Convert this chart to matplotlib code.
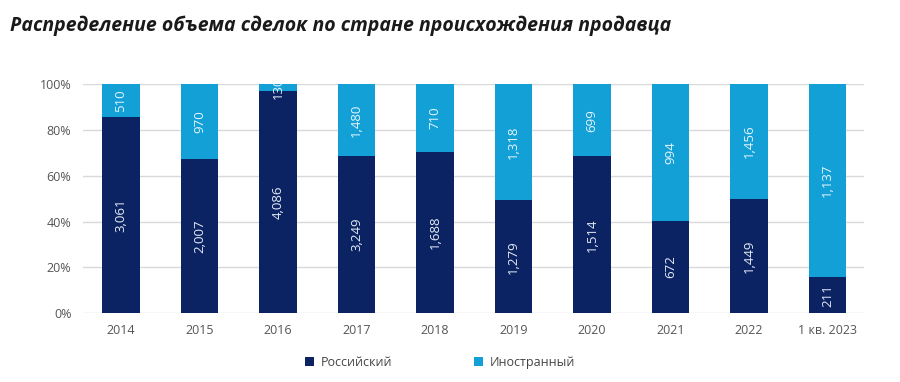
import numpy as np
import matplotlib.pyplot as plt

# Data
categories = ['2014', '2015', '2016', '2017', '2018', '2019', '2020', '2021', '2022', '1 кв. 2023']
russian = [3061, 2007, 4086, 3249, 1688, 1279, 1514, 672, 1449, 211]
foreign = [510, 970, 130, 1480, 710, 1318, 699, 994, 1456, 1137]
yticks = [0, 20, 40, 60, 80, 100]

dark = '#0b2363'
light = '#12a0d7'

rus = np.array(russian, dtype=float)
frn = np.array(foreign, dtype=float)
total = rus + frn
rus_pct = rus / total * 100
frn_pct = frn / total * 100

fig = plt.figure(figsize=(9, 3.82), dpi=100)
ax = fig.add_axes([0.0917, 0.18, 0.868, 0.6])

x = np.arange(len(categories))
w = 0.48
ax.bar(x, rus_pct, w, color=dark, label='Российский', zorder=3)
ax.bar(x, frn_pct, w, bottom=rus_pct, color=light, label='Иностранный', zorder=3)

# Value labels
for i in range(len(x)):
    ax.text(x[i], rus_pct[i] / 2, f'{russian[i]:,}', rotation=90, ha='center', va='center',
            color='#e6ecf5', fontsize=9.5, family='Open Sans', zorder=4)
    ax.text(x[i], rus_pct[i] + frn_pct[i] / 2, f'{foreign[i]:,}', rotation=90, ha='center',
            va='center', color='#e6f4fb', fontsize=9.5, family='Open Sans', zorder=4, clip_on=True)

ax.set_ylim(0, 100)
ax.set_xlim(-0.49, 9.46)
ax.set_yticks(yticks)
ax.set_yticklabels([f'{v}%' for v in yticks])
ax.set_xticks(x)
ax.set_xticklabels(categories)
ax.grid(axis='y', color='#d9d9d9', linewidth=1, zorder=0)
for s in ax.spines.values():
    s.set_visible(False)
ax.tick_params(length=0, colors='#555555', labelsize=9, pad=8)
for lab in ax.get_xticklabels() + ax.get_yticklabels():
    lab.set_family('Open Sans')

fig.text(0.011, 0.932, 'Распределение объема сделок по стране происхождения продавца',
         fontsize=14, fontweight='bold', style='italic', family='Open Sans',
         color='#1a1a1a', va='center')

leg = fig.legend(loc='center', bbox_to_anchor=(0.489, 0.052), ncol=2, frameon=False,
                 handlelength=0.7, handleheight=0.7, columnspacing=6.6, handletextpad=0.5,
                 prop={'family': 'Open Sans', 'size': 9})
for t in leg.get_texts():
    t.set_color('#444444')

fig.savefig('out.png', dpi=100)
